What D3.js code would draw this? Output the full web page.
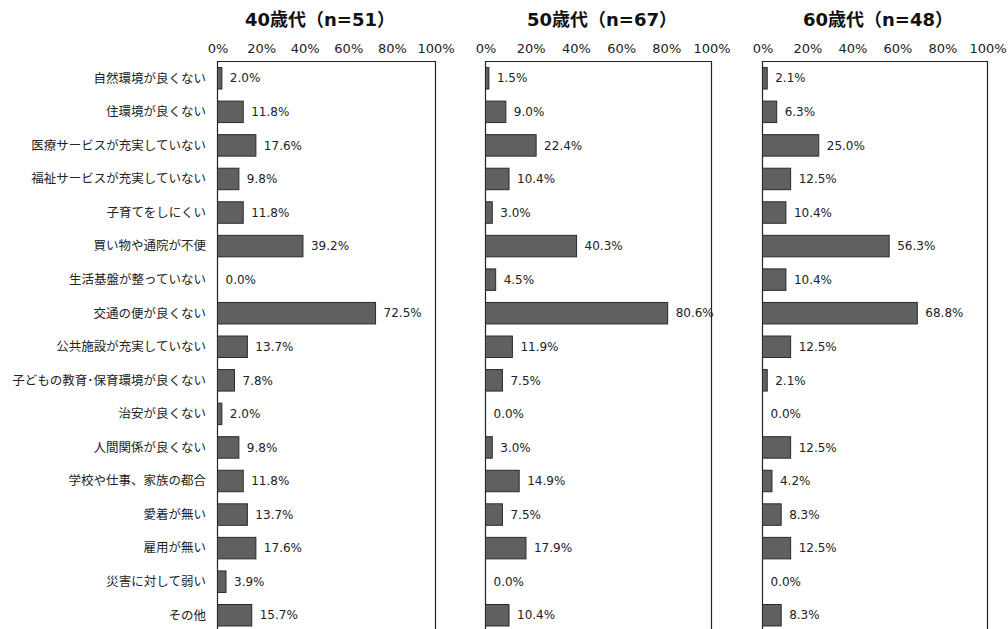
<!DOCTYPE html>
<html>
<head>
<meta charset="utf-8">
<script src="https://cdn.jsdelivr.net/npm/d3@7"></script>
<style>
  html, body { margin: 0; padding: 0; background: #fff; }
  svg { display: block; font-family: "DejaVu Sans", "Noto Sans CJK JP", sans-serif; }
</style>
</head>
<body>
<svg id="chart" width="1008" height="629"></svg>
<script>
// Reasons for not wanting to keep living in the area, by age group (%)
const categories = [
  "自然環境が良くない", "住環境が良くない", "医療サービスが充実していない",
  "福祉サービスが充実していない", "子育てをしにくい", "買い物や通院が不便",
  "生活基盤が整っていない", "交通の便が良くない", "公共施設が充実していない",
  "子どもの教育･保育環境が良くない", "治安が良くない", "人間関係が良くない",
  "学校や仕事、家族の都合", "愛着が無い", "雇用が無い", "災害に対して弱い", "その他"
];
const groupTitles = ["40歳代（n=51）", "50歳代（n=67）", "60歳代（n=48）"];
const values40 = [2.0, 11.8, 17.6, 9.8, 11.8, 39.2, 0.0, 72.5, 13.7, 7.8, 2.0, 9.8, 11.8, 13.7, 17.6, 3.9, 15.7];
const values50 = [1.5, 9.0, 22.4, 10.4, 3.0, 40.3, 4.5, 80.6, 11.9, 7.5, 0.0, 3.0, 14.9, 7.5, 17.9, 0.0, 10.4];
const values60 = [2.1, 6.3, 25.0, 12.5, 10.4, 56.3, 10.4, 68.8, 12.5, 2.1, 0.0, 12.5, 4.2, 8.3, 12.5, 0.0, 8.3];
const tickValues = [0, 20, 40, 60, 80, 100];

const svg = d3.select("#chart");
const plotTop = 61.5;
const step = 33.56;

const y = d3.scaleBand()
  .domain(categories)
  .range([plotTop, plotTop + step * categories.length])
  .paddingInner(0.36)
  .paddingOuter(0.18);

const panels = [
  { title: groupTitles[0], values: values40, x0: 217.5, x1: 435.5, titleX: 320 },
  { title: groupTitles[1], values: values50, x0: 485.5, x1: 711.5, titleX: 602 },
  { title: groupTitles[2], values: values60, x0: 762.5, x1: 987.5, titleX: 878 }
];

// category labels on the left
svg.append("g")
  .selectAll("text")
  .data(categories)
  .join("text")
  .attr("x", 206)
  .attr("y", d => y(d) + y.bandwidth() / 2)
  .attr("dy", "0.35em")
  .attr("text-anchor", "end")
  .attr("font-size", 12.5)
  .attr("fill", "#222")
  .text(d => d);

panels.forEach(p => {
  const x = d3.scaleLinear().domain([0, 100]).range([p.x0, p.x1]);
  const g = svg.append("g");

  // panel title
  g.append("text")
    .attr("x", p.titleX)
    .attr("y", 20)
    .attr("dy", "0.35em")
    .attr("text-anchor", "middle")
    .attr("font-size", 18)
    .attr("font-weight", "bold")
    .attr("fill", "#111")
    .text(p.title);

  // top percentage axis labels
  const axis = d3.axisTop(x)
    .tickValues(tickValues)
    .tickFormat(d => d + "%")
    .tickSize(0)
    .tickPadding(0);
  const ax = g.append("g")
    .attr("transform", `translate(0,${plotTop - 9})`)
    .call(axis);
  ax.select(".domain").remove();
  ax.selectAll("text")
    .attr("font-size", 13)
    .attr("fill", "#222")
    .attr("font-family", "\"DejaVu Sans\", sans-serif");

  // plot frame (open at the bottom)
  g.append("path")
    .attr("d", `M${p.x0},${629 + 5}V${plotTop}H${p.x1}V${629 + 5}`)
    .attr("fill", "none")
    .attr("stroke", "#222")
    .attr("stroke-width", 1.2);

  // bars
  g.append("g")
    .selectAll("rect")
    .data(p.values)
    .join("rect")
    .attr("x", x(0))
    .attr("y", (d, i) => y(categories[i]))
    .attr("width", d => x(d) - x(0))
    .attr("height", y.bandwidth())
    .attr("fill", "#606060")
    .attr("stroke", d => d > 0 ? "#2a2a2a" : "none")
    .attr("stroke-width", 1);

  // value labels
  g.append("g")
    .selectAll("text")
    .data(p.values)
    .join("text")
    .attr("x", d => x(d) + 8)
    .attr("y", (d, i) => y(categories[i]) + y.bandwidth() / 2)
    .attr("dy", "0.35em")
    .attr("font-size", 12)
    .attr("fill", "#222")
    .text(d => d.toFixed(1) + "%");
});
</script>
</body>
</html>
